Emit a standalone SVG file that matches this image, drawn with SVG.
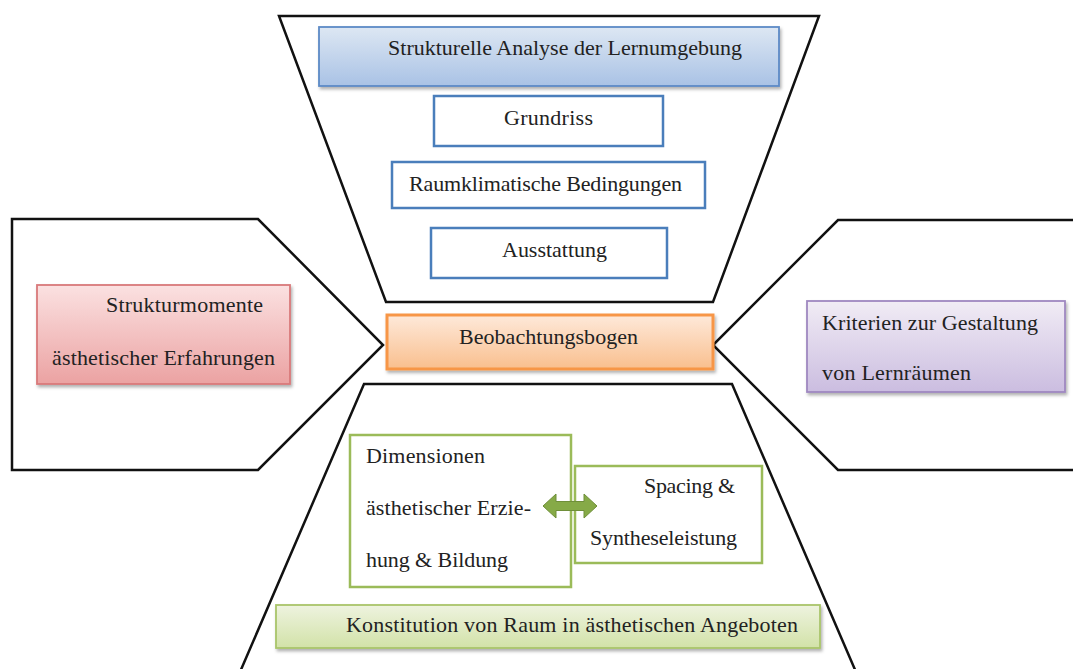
<svg xmlns="http://www.w3.org/2000/svg" width="1073" height="669" viewBox="0 0 1073 669">
<style>
text{font-family:"Liberation Serif","Times New Roman",serif;font-size:22px;fill:#222}
.frame{fill:#fff;stroke:#111;stroke-width:2.5;stroke-linejoin:miter}
.bluebox{fill:#fff;stroke:#4a7ebb;stroke-width:2.5}
.greenbox{fill:#fff;stroke:#9bbb59;stroke-width:2.5}
</style>
<defs>
<linearGradient id="gBlue" x1="0" y1="0" x2="0" y2="1"><stop offset="0" stop-color="#dde7f3"/><stop offset="1" stop-color="#a9c2e5"/></linearGradient>
<linearGradient id="gRed" x1="0" y1="0" x2="0" y2="1"><stop offset="0" stop-color="#fbe1e1"/><stop offset="1" stop-color="#eba2a2"/></linearGradient>
<linearGradient id="gPurple" x1="0" y1="0" x2="0" y2="1"><stop offset="0" stop-color="#f1ecf5"/><stop offset="1" stop-color="#cbbde0"/></linearGradient>
<linearGradient id="gOrange" x1="0" y1="0" x2="0" y2="1"><stop offset="0" stop-color="#fee9da"/><stop offset="1" stop-color="#f9bf8e"/></linearGradient>
<linearGradient id="gGreen" x1="0" y1="0" x2="0" y2="1"><stop offset="0" stop-color="#eef3df"/><stop offset="1" stop-color="#d2e2a8"/></linearGradient>
<filter id="sh" x="-5%" y="-10%" width="110%" height="130%"><feDropShadow dx="1.5" dy="2.5" stdDeviation="1.8" flood-color="#000" flood-opacity="0.3"/></filter>
</defs>

<g id="frame-top"><polygon class="frame" points="279,16 819,16 713,302 386,302"/></g>
<g id="frame-left"><polygon class="frame" points="12,219 258,219 383,345 258,470 12,470"/></g>
<g id="frame-right"><polygon class="frame" points="838,220 1080,220 1080,470 838,470 713,345"/></g>
<g id="frame-bottom"><polygon class="frame" points="364,384 732,384 856,672 240,672"/></g>

<g id="node-analyse">
<rect x="319" y="27" width="460" height="59" fill="url(#gBlue)" stroke="#5d8ac6" stroke-width="1.8" filter="url(#sh)"/>
<text x="388" y="55" textLength="354">Strukturelle Analyse der Lernumgebung</text>
</g>
<g id="node-grundriss">
<rect class="bluebox" x="434" y="96" width="229" height="50"/>
<text x="504" y="125" textLength="89">Grundriss</text>
</g>
<g id="node-raumklima">
<rect class="bluebox" x="392" y="162" width="313" height="46"/>
<text x="409" y="191" textLength="273">Raumklimatische Bedingungen</text>
</g>
<g id="node-ausstattung">
<rect class="bluebox" x="431" y="228" width="236" height="50"/>
<text x="502" y="257" textLength="105">Ausstattung</text>
</g>

<g id="node-strukturmomente">
<rect x="37" y="285" width="253" height="99" fill="url(#gRed)" stroke="#d9797a" stroke-width="1.8" filter="url(#sh)"/>
<text x="106" y="312" textLength="157">Strukturmomente</text>
<text x="52" y="365" textLength="223">ästhetischer Erfahrungen</text>
</g>

<g id="node-beobachtungsbogen">
<rect x="387" y="315" width="326" height="54" fill="url(#gOrange)" stroke="#f79646" stroke-width="3" filter="url(#sh)"/>
<text x="459" y="344" textLength="179">Beobachtungsbogen</text>
</g>

<g id="node-kriterien">
<rect x="807" y="301" width="258" height="91" fill="url(#gPurple)" stroke="#9f88c0" stroke-width="1.8" filter="url(#sh)"/>
<text x="822" y="330" textLength="216">Kriterien zur Gestaltung</text>
<text x="822" y="380" textLength="149">von Lernräumen</text>
</g>

<g id="node-dimensionen">
<rect class="greenbox" x="350" y="435" width="221" height="152"/>
<text x="366" y="463" textLength="119">Dimensionen</text>
<text x="366" y="515" textLength="165">ästhetischer Erzie-</text>
<text x="366" y="567" textLength="142">hung &amp; Bildung</text>
</g>

<g id="node-spacing">
<rect class="greenbox" x="575" y="466" width="187" height="97"/>
<text x="644" y="493" textLength="91">Spacing &amp;</text>
<text x="590" y="545" textLength="147">Syntheseleistung</text>
</g>

<g id="node-konstitution">
<rect x="276" y="605" width="544" height="43" fill="url(#gGreen)" stroke="#a9c56b" stroke-width="1.8" filter="url(#sh)"/>
<text x="346" y="632" textLength="452">Konstitution von Raum in ästhetischen Angeboten</text>
</g>

<g id="connectors">
<polygon points="543,506 556,494 556,501.5 584,501.5 584,494 597,506 584,518 584,510.5 556,510.5 556,518" fill="#86aa47" stroke="#6f8f3a" stroke-width="1"/>
</g>
</svg>
